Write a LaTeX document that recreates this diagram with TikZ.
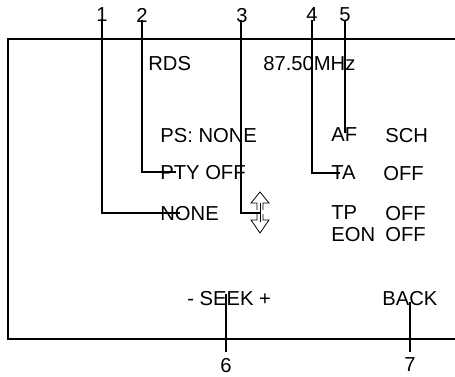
\documentclass[tikz,border=0pt]{standalone}
\usepackage{fontspec}
\setmainfont{Liberation Sans}
\usetikzlibrary{calc,positioning}
\tikzset{
myLabel/.style={
	anchor=west, inner sep=0pt, text depth=0pt,
	font=\fontsize{11.5}{13}\selectfont
}
, myNum/.style={
	inner sep=0pt, text depth=0pt,
	font=\fontsize{11.5}{13}\selectfont
}
% leaders
, myLead/.style={line width=0.6pt,color=black}
, myFrame/.style={line width=0.7pt,color=black}
, myArrow/.style={line width=0.45pt,color=black,line join=miter}
}

\begin{document}
\begin{tikzpicture}[x=0.02cm,y=-0.02cm]
	\useasboundingbox (0,0) rectangle (455,376);
	% screen
	\draw [myFrame] (455,39) -- (8,39) -- (8,339) -- (455,339);
	% texts
	\node[myLabel] (Rds)  at (148,63)  {RDS};
	\node[myLabel] (Freq) at (263,63)  {87.50MHz};
	\node[myLabel] (Ps)   at (160,135) {PS: NONE};
	\node[myLabel] (Pty)  at (160,172) {PTY OFF};
	\node[myLabel] (None) at (160,213) {NONE};
	\node[myLabel] (Af)   at (331,135) {AF};
	\node[myLabel] (Sch)  at (385,135) {SCH};
	\node[myLabel] (Ta)   at (331,173) {TA};
	\node[myLabel] (TaOff)  at (383,173) {OFF};
	\node[myLabel] (Tp)   at (331,213) {TP};
	\node[myLabel] (TpOff)  at (385,213) {OFF};
	\node[myLabel] (Eon)  at (331,234) {EON};
	\node[myLabel] (EonOff) at (385,234) {OFF};
	\node[myLabel] (Seek) at (187,298) {- SEEK +};
	\node[myLabel] (Back) at (382,298) {BACK};
	% numbers
	\node[myNum] (N1) at (102,15) {1};
	\node[myNum] (N2) at (142,15) {2};
	\node[myNum] (N3) at (242,15) {3};
	\node[myNum] (N4) at (312,15) {4};
	\node[myNum] (N5) at (345,15) {5};
	\node[myNum] (N6) at (226,365) {6};
	\node[myNum] (N7) at (410,365) {7};
	% up/down icon
	\coordinate (UpDown) at (260,213);
	\draw [myArrow] ($(UpDown)+(-3,-3)$) -- ++(0,-7) -- ++(-6,0) -- ($(UpDown)+(0,-21)$)
		-- ($(UpDown)+(9,-10)$) -- ++(-6,0) -- ++(0,7);
	\draw [myArrow] ($(UpDown)+(-3,1)$) -- ++(0,6) -- ++(-6,0) -- ($(UpDown)+(0,20)$)
		-- ($(UpDown)+(9,7)$) -- ++(-6,0) -- ++(0,-6);
	\draw [myArrow] ($(UpDown)+(0,-10)$) -- ($(UpDown)+(0,9)$);
	% links
	\draw [myLead] (N1.south) ++(0,-2) |- ($(None.west)+(20,0)$);
	\draw [myLead] (N2.south) ++(0,-2) |- ($(Pty.west)+(16,0)$);
	\draw [myLead] (N3.south) ++(-1,-2) |- (UpDown);
	\draw [myLead] (N4.south) ++(0,-2) |- ($(Ta.west)+(9,0)$);
	\draw [myLead] (N5.south) ++(0,-2) -- ($(N5 |- Af.north)+(0,5)$);
	\draw [myLead] ($(N6.north)+(0,-6)$) -- ($(N6 |- Seek.north)+(0,3)$);
	\draw [myLead] ($(N7.north)+(0,-6)$) -- ($(N7 |- Back.center)+(0,4)$);
\end{tikzpicture}
\end{document}
